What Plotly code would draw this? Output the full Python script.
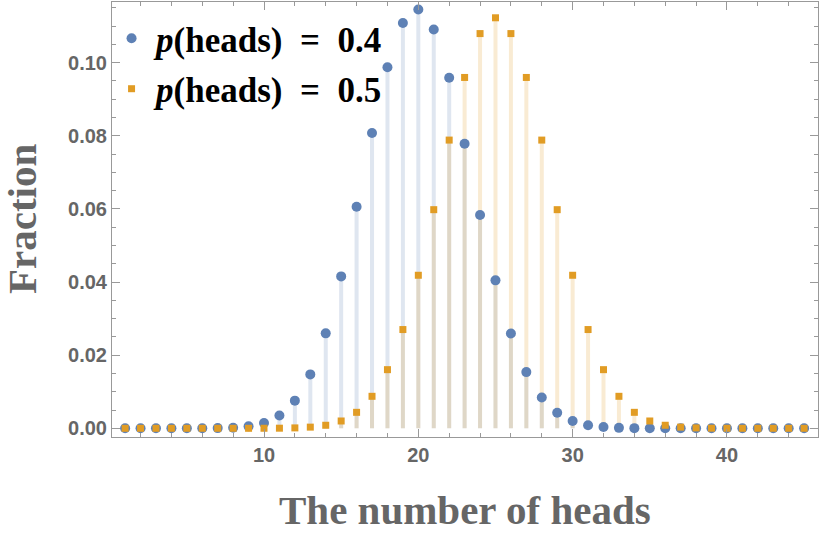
import plotly.graph_objects as go

heads = list(range(1, 46))

frac_p04 = [0.0, 0.0, 0.0, 0.0, 0.0, 0.00001, 0.00005, 0.00017, 0.00053, 0.00144,
            0.00349, 0.00756, 0.01474, 0.02597, 0.04155, 0.06059, 0.08079, 0.09874, 0.11086, 0.11456,
            0.10910, 0.09588, 0.07781, 0.05836, 0.04046, 0.02594, 0.01537, 0.00842, 0.00426, 0.00199,
            0.00085, 0.00034, 0.00012, 0.00004, 0.00001, 0.0, 0.0, 0.0, 0.0, 0.0,
            0.0, 0.0, 0.0, 0.0, 0.0]

frac_p05 = [0.0, 0.0, 0.0, 0.0, 0.0, 0.0, 0.0, 0.0, 0.0, 0.00001,
            0.00003, 0.00011, 0.00032, 0.00083, 0.00200, 0.00437, 0.00875, 0.01604, 0.02701, 0.04186,
            0.05980, 0.07883, 0.09596, 0.10796, 0.11228, 0.10796, 0.09596, 0.07883, 0.05980, 0.04186,
            0.02701, 0.01604, 0.00875, 0.00437, 0.00200, 0.00083, 0.00032, 0.00011, 0.00003, 0.00001,
            0.0, 0.0, 0.0, 0.0, 0.0]

series_names = ["<b><i>p</i>(heads)&nbsp; =&nbsp; 0.4</b>", "<b><i>p</i>(heads)&nbsp; =&nbsp; 0.5</b>"]
x_ticks = [10, 20, 30, 40]
y_ticks = [0.00, 0.02, 0.04, 0.06, 0.08, 0.10]
x_title = "<b>The number of heads</b>"
y_title = "<b>Fraction</b>"

BLUE = "#5E81B5"
ORANGE = "#E19C24"
GREY = "#666666"
FRAME = "#999999"


def stems(xs, ys):
    sx, sy = [], []
    for xv, yv in zip(xs, ys):
        sx += [xv, xv, None]
        sy += [0, yv, None]
    return sx, sy


fig = go.Figure()

sx, sy = stems(heads, frac_p04)
fig.add_trace(go.Scatter(x=sx, y=sy, mode="lines", line=dict(color="rgba(94,129,181,0.2)", width=4),
                         showlegend=False, hoverinfo="skip"))
sx, sy = stems(heads, frac_p05)
fig.add_trace(go.Scatter(x=sx, y=sy, mode="lines", line=dict(color="rgba(225,156,36,0.2)", width=4),
                         showlegend=False, hoverinfo="skip"))

fig.add_trace(go.Scatter(x=heads, y=frac_p04, mode="markers", name=series_names[0],
                         legendgroup="a",
                         marker=dict(color=BLUE, size=10, symbol="circle")))
fig.add_trace(go.Scatter(x=heads, y=frac_p05, mode="markers", name=series_names[1],
                         legendgroup="b",
                         marker=dict(color=ORANGE, size=7, symbol="square")))

axis_common = dict(
    showgrid=False, zeroline=False, showline=True, linecolor=FRAME, linewidth=1,
    mirror="allticks", ticks="inside", tickcolor=FRAME, ticklen=8, tickwidth=1,
    automargin=False,
    tickfont=dict(family="Liberation Sans", size=20, color=GREY, weight="bold"),
)

fig.update_layout(
    width=822, height=537,
    plot_bgcolor="white", paper_bgcolor="white",
    margin=dict(l=112, r=4, t=2, b=100),
    xaxis=dict(range=[0.15, 45.9], tickvals=x_ticks,
               minor=dict(dtick=2, tick0=0, ticks="inside", ticklen=4, tickcolor=FRAME),
               **axis_common),
    yaxis=dict(range=[-0.00238, 0.1166], tickvals=y_ticks, tickformat=".2f",
               minor=dict(dtick=0.005, tick0=0, ticks="inside", ticklen=4, tickcolor=FRAME),
               **axis_common),
    legend=dict(x=-0.007, y=0.984, xanchor="left", yanchor="top", bgcolor="rgba(0,0,0,0)",
                font=dict(family="Liberation Serif", size=35, color="black"),
                traceorder="grouped", tracegroupgap=2, itemwidth=39),
    annotations=[
        dict(text=x_title, xref="paper", yref="paper", x=0.5, y=-0.168,
             xanchor="center", yanchor="middle", showarrow=False,
             font=dict(family="Liberation Serif", size=41, color=GREY)),
        dict(text=y_title, xref="paper", yref="paper", x=-0.1275, y=0.501,
             xanchor="center", yanchor="middle", showarrow=False, textangle=-90,
             height=42,
             font=dict(family="Liberation Serif", size=41, color=GREY)),
    ],
)

fig.write_html("out.html", config={"displayModeBar": False},
               post_script="document.body.style.margin='0';document.body.style.overflow='hidden';")
